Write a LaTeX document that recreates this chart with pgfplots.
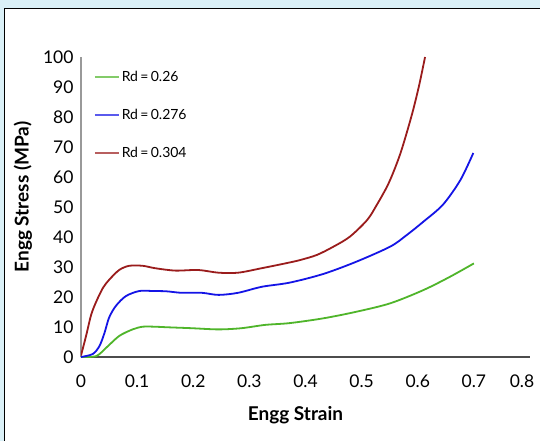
\documentclass[border=0pt]{standalone}
\usepackage{pgfplots}
\pgfplotsset{compat=1.18}
\usepackage{fontspec}
\setmainfont{Lato}
\definecolor{bgblue}{HTML}{DAF0F7}
\definecolor{cgreen}{HTML}{4FB52A}
\definecolor{cblue}{HTML}{1414E6}
\definecolor{cred}{HTML}{9A1C1C}
\begin{document}
\begin{tikzpicture}
\fill[bgblue] (-81pt,-84pt) rectangle (459pt,357pt);
\fill[white] (-77pt,-84pt) rectangle (459pt,349pt);
\draw[black, line width=0.8pt] (-77pt,-84pt) -- (-77pt,349pt) -- (459pt,349pt);
\begin{axis}[
  at={(0pt,0pt)}, anchor=south west,
  scale only axis, width=449pt, height=300pt,
  xmin=0, xmax=0.8, ymin=0, ymax=100,
  axis x line*=bottom, axis y line*=left,
  x axis line style={draw=black!70, line width=1.3pt, -},
  y axis line style={draw=black!40, line width=1.3pt, -},
  xtick={0,0.1,...,0.8}, ytick={0,10,...,100},
  xticklabels={0,0.1,0.2,0.3,0.4,0.5,0.6,0.7,\hspace*{-16pt}0.8},
  major tick length=0pt,
  /pgf/number format/assume math mode=true,
  tick label style={font=\fontsize{17.5}{19}\selectfont},
  xticklabel style={yshift=-14pt},
  yticklabel style={xshift=-4pt},
  xlabel={\textbf{Engg Strain}},
  ylabel={\textbf{Engg Stress (MPa)}},
  label style={font=\fontsize{19}{21}\selectfont},
  xlabel style={yshift=-12pt, xshift=-10pt},
  ylabel style={yshift=4pt, xshift=10pt},
  legend style={at={(10pt,290pt)}, anchor=north west, draw=none, fill=none,
    font=\fontsize{14}{16}\selectfont, row sep=22pt},
  legend cell align=left,
  legend image code/.code={\draw[#1, line width=1.6pt, opacity=0.7] (0pt,0pt) -- (24pt,0pt);},
]
\addplot[cgreen, line width=1.8pt, smooth, tension=0.5] coordinates {
(0,0) (0.027,0.3) (0.045,3.1) (0.068,7) (0.092,9.2) (0.11,10.1) (0.131,10.1) (0.155,9.9)
(0.197,9.6) (0.245,9.2) (0.286,9.6) (0.328,10.7) (0.372,11.3) (0.432,12.9)
(0.491,15.1) (0.551,17.9) (0.61,22.3) (0.658,26.8) (0.70,31.2)};
\addlegendentry{Rd{\,=\,}0.26}
\addplot[cblue, line width=1.8pt, smooth, tension=0.5] coordinates {
(0,0) (0.021,1) (0.033,3.7) (0.042,8.1) (0.05,13.1) (0.062,17) (0.08,20.3) (0.104,22)
(0.128,22) (0.152,21.9) (0.179,21.4) (0.215,21.4) (0.245,20.7) (0.28,21.4) (0.322,23.4)
(0.372,24.8) (0.432,27.7) (0.491,31.8) (0.551,36.8) (0.58,40.6) (0.61,45.1) (0.645,50.8)
(0.676,59) (0.699,68)};
\addlegendentry{Rd{\,=\,}0.276}
\addplot[cred, line width=1.8pt, smooth, tension=0.5] coordinates {
(0,0.5) (0.009,7) (0.018,14) (0.027,18.4) (0.039,23) (0.05,25.7) (0.068,29) (0.086,30.4)
(0.11,30.4) (0.132,29.6) (0.168,28.8) (0.209,29) (0.245,28.1) (0.28,28.1)
(0.322,29.6) (0.364,31.2) (0.39,32.3) (0.42,34) (0.449,36.7) (0.479,40.1) (0.51,45.7)
(0.527,50.7) (0.545,56.7) (0.557,61.8) (0.569,67.8) (0.58,74.5) (0.592,82.5) (0.603,91) (0.613,100)};
\addlegendentry{Rd{\,=\,}0.304}
\end{axis}
\pgfresetboundingbox
\useasboundingbox (-81pt,-84pt) rectangle (459pt,357pt);
\end{tikzpicture}
\end{document}
